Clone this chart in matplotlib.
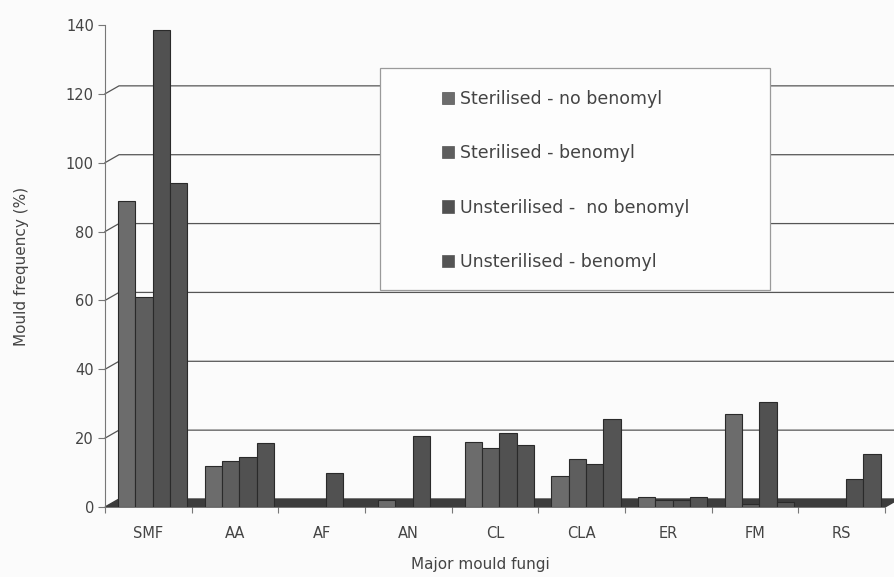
import numpy as np
import matplotlib
matplotlib.use('Agg')
import matplotlib.pyplot as plt
from matplotlib.patches import Patch, Rectangle, Polygon

# ---------------- data ----------------
fungi = ['SMF', 'AA', 'AF', 'AN', 'CL', 'CLA', 'ER', 'FM', 'RS']
series_names = ['Sterilised - no benomyl', 'Sterilised - benomyl',
                'Unsterilised -  no benomyl', 'Unsterilised - benomyl']
ster_no = [89, 12, 0, 2, 19, 9, 3, 27, 0]
ster_ben = [61, 13.5, 0, 0, 17, 14, 2, 1, 0]
unster_no = [138.5, 14.5, 10, 20.5, 21.5, 12.5, 2, 30.5, 8]
unster_ben = [94, 18.5, 0, 0, 18, 25.5, 3, 1.5, 15.5]
yticks = [0, 20, 40, 60, 80, 100, 120, 140]
###################################################################

colors = ['#6c6c6c', '#5e5e5e', '#515151', '#545454']
txt = '#444444'
bg = '#fbfbfb'

plt.rcParams['font.family'] = ['DejaVu Sans']

W, H = 894, 577
fig = plt.figure(figsize=(W / 100, H / 100), dpi=100, facecolor=bg)
left, right = 105 / W, 885 / W
bottom, top = 1 - 507 / H, 1 - 25 / H
ax = fig.add_axes([left, bottom, right - left, top - bottom])
ax.set_facecolor(bg)

x = np.arange(len(fungi))
width = 0.2
start = -0.35
all_series = [ster_no, ster_ben, unster_no, unster_ben]
for j, vals in enumerate(all_series):
    ax.bar(x + start + width / 2 + j * width, vals, width,
           color=colors[j], edgecolor='#2a2a2a', linewidth=0.8, zorder=4)

ax.set_xlim(-0.5, len(fungi) - 0.5)
ax.set_ylim(0, 140)

# 3D-ish back wall gridlines and floor
ax_w = (right - left) * W
ax_h = (top - bottom) * H
dxa = 14 / ax_w            # depth offset in axes fraction (x)
dya = 8 / ax_h             # depth offset in axes fraction (y)
for v in yticks[1:-1]:
    yv = v / 140
    ax.plot([0, dxa, 1 + dxa], [yv, yv + dya, yv + dya], transform=ax.transAxes,
            color='#555555', lw=0.9, zorder=1, clip_on=False)
floor = Polygon([(0, 0), (1, 0), (1 + dxa, dya), (dxa, dya)], closed=True,
                transform=ax.transAxes, facecolor='#3c3c3c', edgecolor='#3c3c3c',
                zorder=2, clip_on=False)
ax.add_patch(floor)

for s in ['top', 'right', 'bottom']:
    ax.spines[s].set_visible(False)
ax.spines['left'].set_color('#777777')
ax.spines['left'].set_linewidth(0.8)

ax.set_yticks(yticks)
ax.tick_params(axis='y', length=5, width=0.8, color='#777777', labelsize=10.5,
               labelcolor=txt, pad=3)
ax.set_xticks(x)
ax.set_xticklabels(fungi)
ax.tick_params(axis='x', length=0, labelsize=10.5, labelcolor=txt, pad=14)
ax.set_xticks(np.arange(len(fungi) + 1) - 0.5, minor=True)
ax.tick_params(axis='x', which='minor', length=4, width=0.8, color='#777777')

ax.set_ylabel('Mould frequency (%)', fontsize=11, color=txt)
ax.yaxis.set_label_coords(-0.097, 0.5)
ax.set_xlabel('Major mould fungi', fontsize=11, color=txt)
ax.xaxis.set_label_coords(0.481, -0.12)
ax.xaxis.label.set_va('center')

# legend box
box = Rectangle((380 / W, 1 - 290 / H), 390 / W, 222 / H, transform=fig.transFigure,
                facecolor='#fdfdfd', edgecolor='#9a9a9a', lw=0.9, zorder=5)
fig.patches.append(box)
handles = [Patch(facecolor=c, edgecolor='#555555', lw=0.5) for c in colors]
leg = fig.legend(handles, series_names, loc='upper left',
                 bbox_to_anchor=(433 / W, 1 - 81 / H), frameon=False,
                 fontsize=12.5, labelcolor=txt, handlelength=0.7, handleheight=0.7,
                 handletextpad=0.35, labelspacing=2.1, borderpad=0)
leg.set_zorder(6)

fig.savefig('out.png', dpi=100, facecolor=bg)
